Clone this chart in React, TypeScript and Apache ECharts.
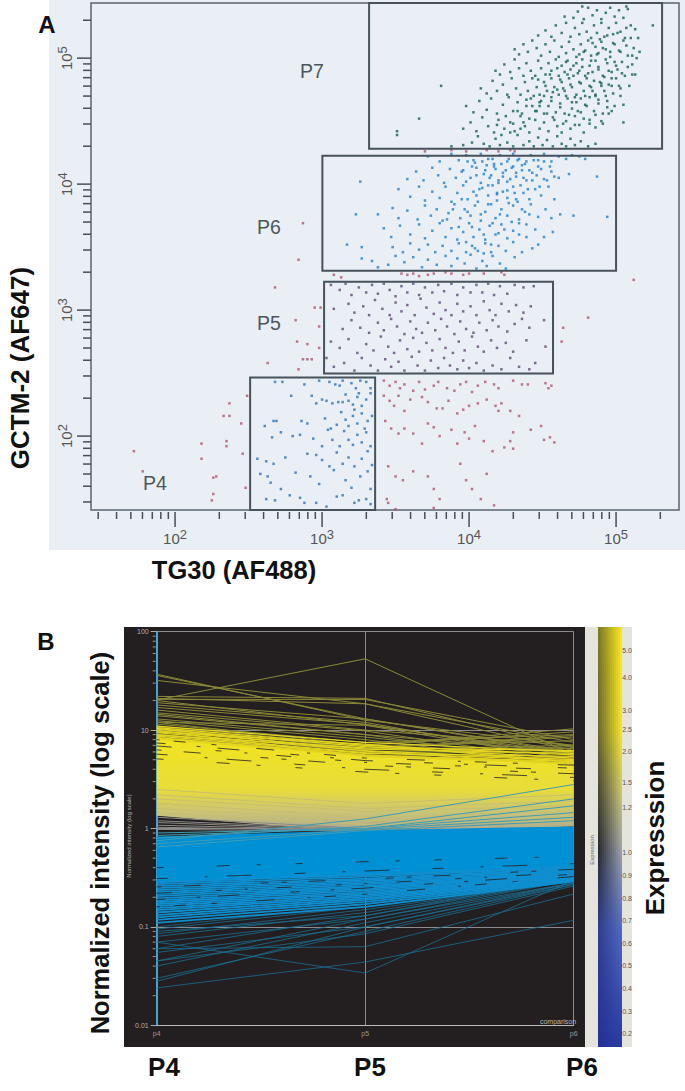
import React, { useEffect, useRef } from "react";
import * as echarts from "echarts";

// ---------- Panel A: log10 x 100 flat pairs (x, y) ----------
const p7Flat = [388,430,396,431,402,433,406,438,410,432,414,430,418,436,421,431,426,433,430,430,433,439,437,431,441,434,444,430,447,437,450,431,453,435,457,430,460,438,463,432,466,430,469,436,472,431,476,434,481,430,486,432,
396,444,401,449,405,442,409,453,413,446,417,441,420,451,424,444,428,449,431,442,435,454,438,446,441,441,445,451,448,444,451,449,454,442,457,453,460,446,463,441,466,450,469,444,472,454,475,447,478,441,482,451,486,445,490,450,
398,462,403,457,407,466,412,459,415,468,419,456,423,463,427,469,430,458,433,465,436,456,439,462,442,468,445,458,448,465,451,456,454,462,456,469,459,457,462,464,465,456,467,468,470,460,473,465,476,457,479,463,482,469,485,458,488,464,491,456,494,461,497,458,
408,476,412,472,416,482,419,474,423,479,426,471,429,484,432,476,435,471,438,481,440,474,443,484,446,477,448,471,451,481,453,474,456,484,458,477,461,471,463,481,465,474,468,484,470,477,473,471,475,481,478,474,480,484,483,477,486,471,489,481,492,474,495,479,498,472,502,478,
418,490,421,487,424,495,428,489,431,499,434,492,437,486,439,496,442,490,445,486,447,498,449,492,452,487,454,496,456,490,459,499,461,486,463,494,465,489,467,498,469,491,471,486,473,496,475,490,477,499,479,486,482,494,484,489,486,498,488,491,491,486,494,496,497,489,500,494,504,488,508,493,
431,507,434,503,437,511,440,505,443,514,446,508,449,502,452,511,455,505,458,514,461,501,463,509,466,504,468,513,471,507,473,501,476,511,478,505,481,514,483,502,486,509,488,504,490,513,493,507,496,501,499,511,503,505,507,510,511,502,
447,518,452,522,456,517,459,526,463,520,466,528,469,517,472,524,475,519,477,528,480,521,483,516,485,526,487,520,490,528,492,517,495,524,498,519,500,528,503,521,506,516,510,526,513,523,
465,533,471,532,474,537,478,531,481,540,484,534,487,538,490,531,493,536,496,540,499,533,502,538,505,532,508,539,477,541,507,541,
381,478,366,452,351,442,351,439,525,526,511,487,505,449];
const p7Core = [452,478,455,487,457,473,460,492,462,483,464,476,466,497,467,487,469,479,471,494,472,469,474,488,475,503,476,480,477,493,479,470,479,506,481,488,482,478,483,498,484,512,485,482,486,470,487,503,488,493,489,515,490,478,491,508,492,485,493,499,494,466,494,518,495,490,496,505,497,478,498,512,499,497,500,484,501,520,502,506,503,470,504,497,505,514,506,486,507,524,508,502,509,478,510,516,511,495,512,508,513,487,514,500,515,516,516,505,
448,462,451,470,453,456,456,466,458,451,460,475,462,461,464,448,466,470,468,455,470,465,472,447,474,458,476,468,478,452,480,462,482,448,484,474,486,455,488,467,490,480,491,448,493,470,495,456,497,484,499,462,501,491,503,476,505,463,
444,470,446,458,447,483,449,466,441,452,443,462,437,449,435,444,439,467,433,458,430,448,428,441,425,454,422,439,419,447];
const p6Flat = [372,422,380,418,388,424,393,419,398,423,404,417,408,424,413,420,417,416,421,423,426,418,430,424,434,420,438,416,442,423,447,419,451,424,456,418,461,422,466,420,470,423,475,422,479,420,
358,404,364,410,369,403,375,413,379,407,383,401,387,412,391,405,395,410,398,402,402,414,405,407,408,401,411,411,414,405,417,414,420,403,423,409,426,402,429,413,432,406,436,411,439,403,443,409,447,414,451,404,456,410,461,405,468,408,487,406,
352,396,360,390,366,398,370,387,375,394,380,389,384,398,388,386,392,393,396,399,399,388,403,394,406,386,409,397,413,391,416,399,419,387,423,394,426,389,430,398,433,386,437,393,441,388,445,396,449,391,454,398,458,388,
338,376,348,381,352,373,358,379,365,372,370,383,374,375,378,380,382,371,386,377,390,384,394,373,397,380,401,375,404,383,408,371,411,378,415,384,418,373,422,380,426,375,430,383,434,372,438,378,442,384,447,374,452,380,456,373,462,376,471,375,494,374,
342,365,347,358,353,367,360,360,366,368,370,357,375,363,380,369,384,358,388,365,392,356,396,362,400,369,403,358,407,364,411,356,414,367,418,360,422,368,426,357,430,363,434,369,439,358,445,364,451,358,457,362,
348,350,355,346,360,353,366,348,372,352,377,346,382,351,388,347,393,353,398,346,402,351,406,347,411,353,415,346,420,351,425,347,430,354,436,346,443,349,447,352,
327,341,334,339,345,336,350,343,356,338,362,342,368,334,372,340,378,336,384,343,388,335,392,341,397,337,401,344,405,333,409,339,412,335,416,343,421,337,425,333,431,342,338,334,
326,402,323,376,317,352,327,350];
const p6Core = [396,411,399,418,401,405,403,419,405,413,407,396,409,418,410,408,412,415,413,399,415,407,416,420,418,412,419,393,420,401,422,416,423,406,425,411,426,395,427,420,428,404,430,414,431,393,432,409,433,419,435,399,436,415,437,405,439,418,440,396,441,411,443,403,444,419,446,407,448,398,449,412,451,418,453,403,455,414,458,406,
385,372,389,380,393,366,395,388,399,378,402,366,405,391,408,376,410,360,413,384,416,369,419,392,421,376,424,364,427,385,429,370,432,388,434,360,436,380,439,368,441,376,398,354,404,349,410,345,415,352,420,361];
const p5Flat = [306,320,312,316,316,321,320,312,325,318,330,314,334,320,338,313,342,321,346,316,350,311,354,319,358,314,362,321,366,312,370,318,375,314,379,320,383,315,388,321,392,312,396,318,401,314,405,320,409,314,413,321,417,312,421,319,426,313,431,320,437,318,444,319,
308,301,318,305,322,298,328,303,332,296,336,308,341,301,346,296,350,306,354,299,358,304,363,296,367,309,371,302,376,297,380,306,384,300,388,296,392,305,396,299,401,303,405,296,410,307,414,300,418,296,422,305,427,299,432,304,437,298,442,303,
314,285,320,292,326,286,332,282,338,290,342,284,347,293,351,287,356,281,360,291,364,285,368,282,372,290,377,284,381,293,385,287,390,281,394,291,398,285,403,282,407,290,412,284,416,292,420,287,426,283,431,289,436,293,441,286,451,292,
306,275,312,270,318,277,324,266,330,273,335,268,340,279,345,271,349,266,353,276,358,269,362,278,366,267,371,274,375,268,380,277,384,270,389,266,393,275,397,268,402,279,406,271,410,267,415,276,419,270,425,274,430,267,439,276,452,271,
303,262,308,255,315,258,322,252,327,262,333,256,338,252,343,261,347,255,352,259,356,252,361,263,365,256,370,252,374,260,379,254,383,262,387,256,392,253,396,260,400,254,405,258,410,252,416,256,422,253,428,262,434,255,441,253,445,258];
const p4Flat = [252,141,256,141,260,141,264,141,268,141,272,141,276,141,280,141,283,141,286,141,289,141,292,141,295,141,298,141,301,141,304,141,307,141,311,141,315,141,320,141,326,141,330,141,332,141,
268,243,273,243,288,241,298,244,305,243,309,241,312,240,314,244,320,242,323,238,326,244,330,243,333,238,
279,232,293,232,296,226,300,229,303,228,307,226,311,227,314,227,316,233,318,228,321,225,324,231,327,224,330,229,333,234,325,234,322,221,
261,208,267,212,269,212,286,212,290,210,302,214,306,206,310,209,313,219,316,213,318,208,321,216,324,210,327,218,331,212,334,216,329,206,
266,199,272,203,280,200,285,201,294,198,300,192,304,205,307,197,312,192,315,204,318,197,321,193,324,201,327,195,330,203,333,192,
256,182,262,180,267,178,275,183,290,186,296,185,300,181,305,176,310,187,314,178,318,183,322,176,327,182,331,188,334,177,
258,170,263,168,265,163,272,158,282,171,292,168,298,162,308,173,316,165,320,159,326,168,331,172,333,158,
262,150,268,149,278,153,285,151,288,147,296,147,303,144,310,152,314,153,322,147,325,149,330,150,333,146];
const redFlat = [172,188,178,172,218,194,218,182,226,167,228,168,226,154,225,149,235,196,235,192,233,216,237,216,237,226,245,210,246,186,248,159,249,232,
218,141,221,141,224,141,228,141,232,141,236,141,240,141,243,141,246,141,249,141,263,258,284,253,287,261,290,261,293,261,283,275,290,273,298,270,282,292,298,287,295,302,299,302,287,369,284,340,268,318,308,328,313,326,
354,329,358,328,362,329,366,327,372,328,376,329,384,330,388,329,396,328,400,329,410,329,422,330,424,328,370,426,388,427,398,426,412,427,420,426,428,427,431,426,
342,244,346,240,350,243,353,238,356,241,362,236,366,243,370,237,376,240,379,243,385,238,390,236,394,241,398,243,402,235,406,240,411,243,417,241,420,238,430,244,436,241,440,241,452,242,454,238,456,240,
342,232,346,228,349,224,352,232,356,220,360,229,368,231,372,227,378,222,382,222,386,228,392,218,396,221,400,224,406,226,412,229,418,224,420,220,422,226,428,220,434,216,
343,212,347,206,352,202,356,206,362,202,368,194,372,210,376,207,380,200,388,205,392,194,397,203,400,198,404,208,410,196,416,188,424,191,428,196,430,190,442,205,449,208,451,197,455,199,458,195,430,203,
345,176,350,168,355,165,362,172,372,168,376,158,380,150,394,178,398,165,402,158,408,150,412,170,417,145,344,150,345,147,350,142,376,143,
339,141,345,141,350,141,356,141,360,141,368,141,372,141,381,141,388,141,481,294,464,286,463,275,512,324];

// Gates [xLow, xHigh, yLow, yHigh]
const gateP7 = [2089, 205600, 19050, 274000];
const gateP6 = [1005, 100000, 2051, 16790];
const gateP5 = [1032, 37250, 314, 1680];
const gateP4 = [324, 2296, 25.9, 292];
const gates = [gateP7, gateP6, gateP5, gateP4];
const flowXMin = 26.8, flowXMax = 268000, flowYMin = 25.9, flowYMax = 274000;
const flowMajor = [100, 1000, 10000, 100000];
const flowXMinor = [30,40,50,60,70,80,90,200,300,400,500,600,700,800,900,2000,3000,4000,5000,6000,7000,8000,9000,20000,30000,40000,50000,60000,70000,80000,90000,200000];
const flowYMinor = [30,40,50,60,70,80,90,200,300,400,500,600,700,800,900,2000,3000,4000,5000,6000,7000,8000,9000,20000,30000,40000,50000,60000,70000,80000,90000,200000];

// ---------- Panel B ----------
const comparisons = ["p4", "p5", "p6"];
const yellowTop = [8.5, 5.6, 4.8];
const yellowBottom = [1.35, 0.9, 1.05];
const blueTop = [0.83, 0.96, 1.05];
const blueBottom = [0.28, 0.33, 0.4];
const intensityMinor = [0.02,0.03,0.04,0.05,0.06,0.07,0.08,0.09,0.2,0.3,0.4,0.5,0.6,0.7,0.8,0.9,2,3,4,5,6,7,8,9,20,30,40,50,60,70,80,90];
const oliveLines = [[20.2,53,5.6],[37,12.6,7],[36,13,5.8],[32,18.5,6.2],[22,21,6.6],[21,18.5,7.5],[20.5,20.5,8],[20,11.3,5.8],[19,13,6],[18,12,5],[17,11.5,5.5],[16,10,7],[15,9.8,4.8],[14,9,4.5],[14.5,9,6],[13,8.5,5],[12.5,8,4.5],[12,11.2,5],[12,7,10.3],[11.5,7.5,9],[11,7,9.6],[10.8,6.5,8.8],[10.5,6.5,8.5],[10,6.8,7.8],[10,6.3,7],[9.5,6,6.5],[9.2,5.8,6],[9,5.6,5.2],[8.8,5.5,4.8],[8.5,5.7,6.8]];
const brightYellowLines = [[11,7.5,6],[10.6,7,5.6],[10.2,6.8,5.2],[9.8,6.4,5.8],[9.4,6.2,5],[9,5.9,4.9],[8.7,5.8,5.4],[8.4,5.6,4.6],[8.1,5.5,4.8],[10.4,6.1,4.5],[9.6,7.2,4.7],[8.9,6.6,6.2],[9.9,5.4,4.6]];
const yellowStreaks = [[8,5.2,4.4],[7.4,4.9,4.1],[6.9,4.7,3.9],[6.3,4.4,3.6],[5.7,4,3.3],[5.1,3.75,3.05]];
const tanLines = [[1.6,1.2,1.3],[1.8,1.3,1.5],[2,1.5,1.7],[2.2,1.6,1.9],[2.5,1.8,2.2],[1.45,1.1,1.2]];
const crossLines = [[0.75,1.25,2.8],[0.8,1.05,2],[0.85,1,1.45],[0.9,1,1.7],[0.7,0.98,1.3],[0.65,0.95,1.2]];
const grayLines = [[1.3,1,0.95],[1.2,0.98,0.95],[1.15,0.96,1],[1.08,0.96,1],[1.03,0.95,1],[0.98,0.94,1]];
const blueSparseLines = [[0.024,0.044,0.117],[0.07,0.034,0.3],[0.06,0.063,0.216],[0.03,0.09,0.27],[0.028,0.1,0.28],[0.04,0.11,0.28],[0.045,0.12,0.3],[0.045,0.085,0.26],[0.055,0.1,0.27],[0.06,0.13,0.3],[0.07,0.12,0.28],[0.08,0.14,0.3],[0.085,0.15,0.29],[0.09,0.13,0.32],[0.095,0.16,0.3],[0.1,0.17,0.32]];
const blueDenseLines = [[0.11,0.16,0.29],[0.118,0.17,0.295],[0.125,0.18,0.3],[0.132,0.188,0.305],[0.14,0.195,0.31],[0.148,0.203,0.315],[0.155,0.21,0.32],[0.163,0.218,0.325],[0.17,0.226,0.33],[0.178,0.235,0.335],[0.186,0.244,0.34],[0.195,0.252,0.345],[0.205,0.26,0.35],[0.215,0.27,0.355],[0.225,0.28,0.36],[0.236,0.29,0.37],[0.248,0.3,0.38],[0.26,0.31,0.39],[0.272,0.325,0.4],[0.285,0.34,0.41]];
const blueStreaks = [[0.16,0.215,0.325],[0.19,0.248,0.343],[0.22,0.275,0.357],[0.255,0.305,0.385],[0.31,0.37,0.44],[0.4,0.46,0.52]];
const colourbarLabels = ["5.0","4.0","3.0","2.5","2.0","1.5","1.2","1.0","0.9","0.8","0.7","0.6","0.5","0.4","0.3","0.2"];
const colourbarY = [650,677,710,729,751,782,807,852,875,898,920,943,965,988,1011,1033];

const streakDashes = [[3,14,12,26,5,40,18,33],[9,31,4,17,22,51],[15,44,6,23,3,29],[5,22,17,60,8,13],[11,37,3,19,25,43],[7,53,13,27,4,35]];
const FONT = "Liberation Sans";
const toPairs = (flat: number[]) => {
  const out: number[][] = [];
  for (let i = 0; i < flat.length; i += 2) out.push([Math.pow(10, flat[i] / 100), Math.pow(10, flat[i + 1] / 100)]);
  return out;
};
const scatter = (flat: number[], color: string, z = 3) => ({
  type: "scatter", xAxisIndex: 0, yAxisIndex: 0, data: toPairs(flat), symbol: "rect", symbolSize: 2.5,
  itemStyle: { color }, silent: true, z,
});
const label = (text: string, x: number, y: number, font: string, fill: string, rot = 0) => ({
  type: "text", x, y, rotation: rot, z: 20, silent: true,
  style: { text, font, fill, textAlign: "center", textVerticalAlign: "middle", align: "center", verticalAlign: "middle" },
});
const mix = (a: string, b: string, t: number) => {
  const p = (s: string, i: number) => parseInt(s.slice(i, i + 2), 16);
  const c = [1, 3, 5].map((i) => Math.round(p(a, i) + (p(b, i) - p(a, i)) * t));
  return `rgb(${c[0]},${c[1]},${c[2]})`;
};
const barOffsets = [0, 0.25, 0.38, 0.53, 0.72, 1];
const barLeft = ["#7d7a2a", "#6e6c30", "#4d4d35", "#2c2e33", "#2f3f8f", "#24319a"];
const barRight = ["#f8e61c", "#f2e228", "#c9c56a", "#9a9ea6", "#5068c0", "#2a3aa0"];

const tickSeries = (values: number[], axis: "x" | "y", len: number) => ({
  type: "custom", xAxisIndex: 0, yAxisIndex: 0, silent: true, z: 4, clip: false,
  data: values.map((v) => (axis === "x" ? [v, flowYMin] : [flowXMin, v])),
  encode: { x: 0, y: 1 },
  renderItem: (_: any, api: any) => {
    const p = api.coord([api.value(0), api.value(1)]);
    const shape = axis === "x"
      ? { x1: p[0], y1: p[1] + 2, x2: p[0], y2: p[1] + 2 + len }
      : { x1: p[0], y1: p[1], x2: p[0] - len, y2: p[1] };
    return { type: "line", shape, style: { stroke: "#474f57", lineWidth: 1.5 } };
  },
});
const band = (top: number[], bottom: number[], fill: any, z: number) => ({
  type: "custom", xAxisIndex: 1, yAxisIndex: 1, silent: true, z,
  data: [[0, 1]], encode: { x: 0, y: 1 },
  renderItem: (_: any, api: any) => {
    const pts = [0, 1, 2].map((i) => api.coord([i, top[i]])).concat([2, 1, 0].map((i) => api.coord([i, bottom[i]])));
    return { type: "polygon", shape: { points: pts }, style: { fill } };
  },
});
const lines = (rows: number[][], color: string, width: number, z: number) =>
  rows.map((r) => ({
    type: "line", xAxisIndex: 1, yAxisIndex: 1, data: r, symbol: "none", silent: true, z,
    lineStyle: { color, width },
  }));
const streaks = (rows: number[][]) =>
  rows.map((r, i) => ({
    type: "line", xAxisIndex: 1, yAxisIndex: 1, data: r, symbol: "none", silent: true, z: 6,
    lineStyle: { color: "#231f20", width: 0.8, type: streakDashes[i % streakDashes.length] },
  }));

export default function App() {
  const ref = useRef<HTMLDivElement>(null);
  useEffect(() => {
    const chart = echarts.init(ref.current!, undefined, { renderer: "svg" });
    const barCols: any[] = [];
    for (let i = 0; i < 12; i++) {
      const t = i / 11;
      barCols.push({
        type: "rect", z: 1, silent: true, shape: { x: 598 + i * 2, y: 627, width: 2, height: 420 },
        style: { fill: new echarts.graphic.LinearGradient(0, 0, 0, 1, barOffsets.map((o, k) => ({ offset: o, color: mix(barLeft[k], barRight[k], t) }))) },
      });
    }
    const option: any = {
      animation: false,
      backgroundColor: "#ffffff",
      graphic: [
        { type: "rect", z: -1, silent: true, shape: { x: 49, y: 0, width: 636, height: 550 }, style: { fill: "#e9eff5" } },
        { type: "rect", z: -1, silent: true, shape: { x: 124, y: 627, width: 461, height: 420 }, style: { fill: "#231f20" } },
        { type: "rect", z: -1, silent: true, shape: { x: 585, y: 627, width: 47, height: 420 }, style: { fill: "#e4e3dc" } },
        ...barCols,
        ...colourbarLabels.map((t, i) => label(t, 627, colourbarY[i], `7px "${FONT}"`, "#555555")),
        label("A", 47, 24, `bold 24px "${FONT}"`, "#111111"),
        label("B", 46, 641, `bold 24px "${FONT}"`, "#111111"),
        label("GCTM-2 (AF647)", 20, 368, `bold 26px "${FONT}"`, "#111111", Math.PI / 2),
        label("TG30 (AF488)", 234, 570, `bold 25.5px "${FONT}"`, "#111111"),
        label("P7", 312, 71, `19.5px "${FONT}"`, "#4d555c"),
        label("P6", 269, 227, `19.5px "${FONT}"`, "#4d555c"),
        label("P5", 269, 323, `19.5px "${FONT}"`, "#4d555c"),
        label("P4", 155, 483, `19.5px "${FONT}"`, "#4d555c"),
        label("Normalized intensity (log scale)", 100, 843, `bold 25.5px "${FONT}"`, "#111111", Math.PI / 2),
        label("Expresssion", 655, 838, `bold 26px "${FONT}"`, "#111111", Math.PI / 2),
        label("P4", 164, 1067, `bold 26px "${FONT}"`, "#111111"),
        label("P5", 370, 1067, `bold 26px "${FONT}"`, "#111111"),
        label("P6", 582, 1067, `bold 26px "${FONT}"`, "#111111"),
        label("Normalized intensity (log scale)", 129, 836, `6px "${FONT}"`, "#b5b5b5", Math.PI / 2),
        label("Expression", 592, 850, `6px "${FONT}"`, "#666666", Math.PI / 2),
        label("comparison", 558, 1021, `7px "${FONT}"`, "#b8b8b8"),
      ],
      grid: [
        { left: 91, right: 6, top: 2, height: 508, show: true, borderColor: "#5a6670", borderWidth: 1.5, backgroundColor: "transparent" },
        { left: 156.7, right: 111.3, top: 631.7, height: 393.6 },
      ],
      xAxis: [
        {
          type: "log", gridIndex: 0, min: flowXMin, max: flowXMax, logBase: 10, splitLine: { show: false },
          axisLine: { show: false }, axisTick: { show: false },
          axisLabel: {
            margin: 18, color: "#555", fontFamily: FONT, fontSize: 15,
            formatter: (v: number) => { const e = Math.log10(v); return Math.abs(e - Math.round(e)) < 1e-6 ? `10{s|${Math.round(e)}}` : ""; },
            rich: { s: { fontSize: 13, fontFamily: FONT, color: "#555", verticalAlign: "top", padding: [0, 0, 7, 0] } },
          },
        },
        {
          type: "category", gridIndex: 1, data: comparisons, boundaryGap: false,
          axisLine: { lineStyle: { color: "#b8b8b8", width: 1 } }, axisTick: { show: false },
          axisLabel: { color: "#999", fontFamily: FONT, fontSize: 7, margin: 5 },
          splitLine: { show: true, lineStyle: { color: "#8c8c90", width: 1 } },
        },
      ],
      yAxis: [
        {
          type: "log", gridIndex: 0, min: flowYMin, max: flowYMax, logBase: 10, splitLine: { show: false },
          axisLine: { show: false }, axisTick: { show: false },
          axisLabel: {
            margin: 15, rotate: 90, color: "#555", fontFamily: FONT, fontSize: 15,
            formatter: (v: number) => { const e = Math.log10(v); return Math.abs(e - Math.round(e)) < 1e-6 ? `10{s|${Math.round(e)}}` : ""; },
            rich: { s: { fontSize: 13, fontFamily: FONT, color: "#555", verticalAlign: "top", padding: [0, 0, 7, 0] } },
          },
        },
        {
          type: "log", gridIndex: 1, min: 0.01, max: 100, logBase: 10,
          axisLine: { show: true, lineStyle: { color: "#4aa3d3", width: 2 } },
          axisTick: { show: true, length: 6, lineStyle: { color: "#aaaaaa" } },
          axisLabel: { color: "#b0b0b0", fontFamily: FONT, fontSize: 7, margin: 8, formatter: (v: number) => String(+v.toPrecision(2)) },
          splitLine: { show: true, lineStyle: { color: "#8c8c90", width: 1 } },
        },
      ],
      series: [
        scatter(redFlat, "#b0566c", 3),
        scatter(p4Flat, "#2f70b4", 4),
        scatter(p5Flat, "#5f4a72", 4),
        scatter(p6Flat, "#2280c8", 4),
        scatter(p6Core, "#2280c8", 4),
        scatter(p7Flat, "#155f55", 4),
        scatter(p7Core, "#155f55", 4),
        {
          type: "custom", xAxisIndex: 0, yAxisIndex: 0, silent: true, z: 5, clip: false,
          data: gates, encode: { x: [0, 1], y: [2, 3] },
          renderItem: (_: any, api: any) => {
            const a = api.coord([api.value(0), api.value(3)]);
            const b = api.coord([api.value(1), api.value(2)]);
            return { type: "rect", shape: { x: a[0], y: a[1], width: b[0] - a[0], height: b[1] - a[1] }, style: { fill: "none", stroke: "#47525b", lineWidth: 2 } };
          },
        },
        tickSeries(flowXMinor, "x", 7),
        tickSeries(flowMajor, "x", 15),
        tickSeries(flowYMinor, "y", 8),
        tickSeries(flowMajor, "y", 14),
        band(yellowTop, yellowBottom, new echarts.graphic.LinearGradient(0, 0, 0, 1, [
          { offset: 0, color: "#f2e41e" }, { offset: 0.55, color: "#e8dc3a" }, { offset: 0.8, color: "#c8c27a" }, { offset: 1, color: "#a9a68e" },
        ]), 3),
        ...lines(grayLines, "#8a8a86", 1, 3),
        band(blueTop, blueBottom, "#0090d4", 4),
        ...lines(oliveLines, "#8a8838", 1, 5),
        ...lines(brightYellowLines, "#e2d41f", 1.2, 5),
        ...lines(tanLines, "#c7bf70", 1, 5),
        ...streaks(yellowStreaks),
        ...lines(crossLines, "#3f9cb4", 1, 6),
        ...lines(blueSparseLines, "#1b6f93", 0.8, 5),
        ...lines(blueDenseLines, "#0f8fd0", 1.8, 5),
        ...streaks(blueStreaks),
        {
          type: "custom", xAxisIndex: 1, yAxisIndex: 1, silent: true, z: 7, clip: false,
          data: intensityMinor.map((v) => [0, v]), encode: { x: 0, y: 1 },
          renderItem: (_: any, api: any) => {
            const p = api.coord([0, api.value(1)]);
            return { type: "line", shape: { x1: p[0] - 1, y1: p[1], x2: p[0] - 4, y2: p[1] }, style: { stroke: "#999999", lineWidth: 1 } };
          },
        },
      ],
    };
    chart.setOption(option);
    return () => chart.dispose();
  }, []);
  return <div ref={ref} style={{ position: "absolute", left: 0, top: 0, width: 685, height: 1091 }} />;
}
